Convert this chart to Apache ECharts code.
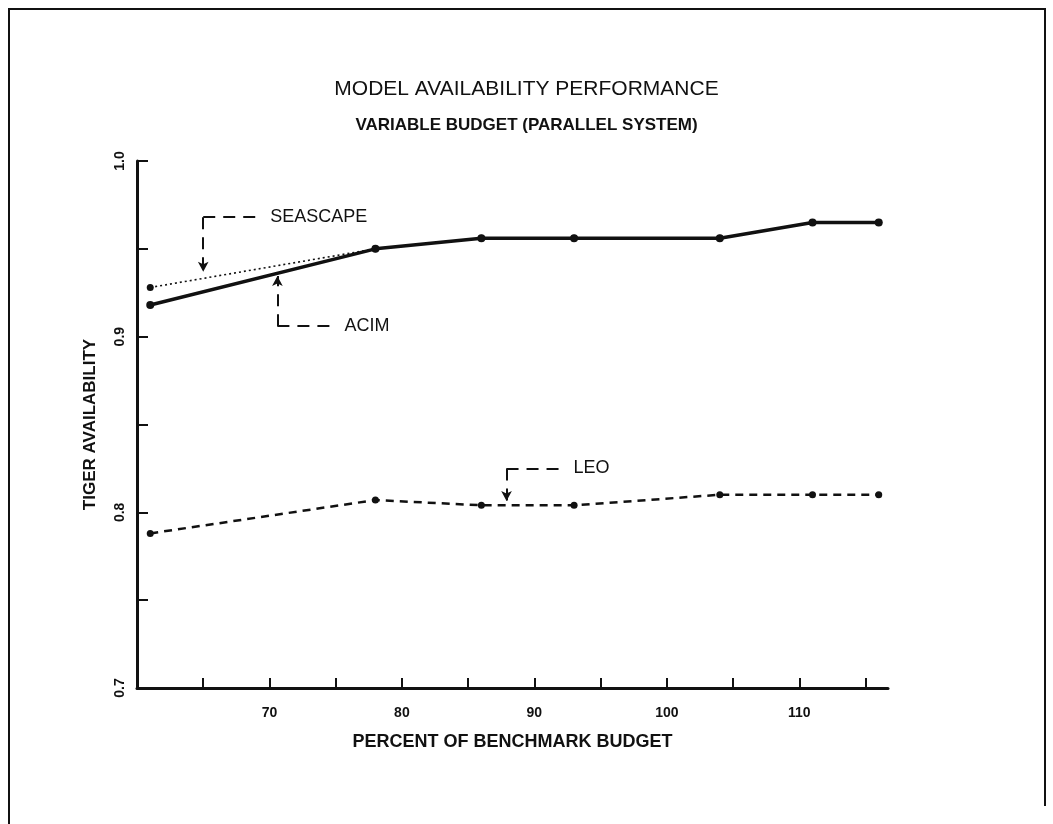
<!DOCTYPE html>
<html>
<head>
<meta charset="utf-8">
<script src="https://cdn.jsdelivr.net/npm/echarts@6/dist/echarts.min.js"></script>
<style>
  html, body { margin: 0; padding: 0; background: #fff; }
  #chart { width: 1053px; height: 824px; }
</style>
</head>
<body>
<div id="chart"></div>
<script>
// budget (% of benchmark) at which each model was run
var budget = [61, 78, 86, 93, 104, 111, 116];
// tiger availability per model
var acim = [0.918, 0.950, 0.956, 0.956, 0.956, 0.965, 0.965];
var seascape = [0.928, 0.950, 0.956, 0.956, 0.956, 0.965, 0.965];
var leo = [0.788, 0.807, 0.804, 0.804, 0.810, 0.810, 0.810];

var xTicks = [65, 70, 75, 80, 85, 90, 95, 100, 105, 110, 115];
var xLabels = [70, 80, 90, 100, 110];
var yLabels = [0.7, 0.8, 0.9, 1.0];

function pairs(xs, ys) {
    return xs.map(function (x, i) { return [x, ys[i]]; });
}

var ink = '#111';
var font = 'Liberation Sans';

// L-shaped dashed leader with an arrow, plus the label at the end
function leader(tip, corner, end, text) {
    var dash = { color: ink, width: 2, type: [12, 8] };
    return {
        silent: true,
        animation: false,
        symbol: 'none',
        lineStyle: dash,
        data: [
            [{ coord: corner, symbol: 'none' },
             { coord: tip, symbol: 'arrow', symbolSize: [8, 10] }],
            [{ coord: corner },
             { coord: end,
               label: { show: true, position: 'end', formatter: text, distance: 14,
                        color: ink, fontFamily: font, fontSize: 18 } }]
        ]
    };
}

var chart = echarts.init(document.getElementById('chart'));
chart.setOption({
    backgroundColor: '#fff',
    animation: false,
    title: [{
        text: 'MODEL AVAILABILITY PERFORMANCE',
        left: 'center', top: 74,
        textStyle: { color: ink, fontFamily: font, fontWeight: 'normal', fontSize: 21 }
    }, {
        text: 'VARIABLE BUDGET (PARALLEL SYSTEM)',
        left: 'center', top: 112,
        textStyle: { color: ink, fontFamily: font, fontWeight: 'bold', fontSize: 17 }
    }],
    grid: { left: 137, right: 165, top: 161, bottom: 136 },
    xAxis: {
        type: 'value',
        min: 60, max: 116.7,
        name: 'PERCENT OF BENCHMARK BUDGET',
        nameLocation: 'middle', nameGap: 45,
        nameTextStyle: { color: ink, fontFamily: font, fontWeight: 'bold', fontSize: 18 },
        axisLine: { lineStyle: { color: ink, width: 3 } },
        axisTick: { show: true, inside: true, length: 10, customValues: xTicks,
                    lineStyle: { color: ink, width: 2 } },
        axisLabel: { customValues: xLabels, margin: 18, color: ink,
                     fontFamily: font, fontWeight: 'bold', fontSize: 14 },
        splitLine: { show: false }
    },
    yAxis: {
        type: 'value',
        min: 0.7, max: 1.0, interval: 0.05,
        name: 'TIGER AVAILABILITY',
        nameLocation: 'middle', nameGap: 38, nameRotate: 90,
        nameTextStyle: { color: ink, fontFamily: font, fontWeight: 'bold', fontSize: 17 },
        axisLine: { show: true, lineStyle: { color: ink, width: 3 } },
        axisTick: { show: true, inside: true, length: 11, lineStyle: { color: ink, width: 2 } },
        axisLabel: {
            customValues: yLabels, rotate: 90, margin: 10, color: ink,
            fontFamily: font, fontWeight: 'bold', fontSize: 14,
            formatter: function (v) { return v.toFixed(1); }
        },
        splitLine: { show: false }
    },
    series: [{
        name: 'SEASCAPE',
        type: 'line',
        data: pairs(budget, seascape),
        symbol: 'circle', symbolSize: 7,
        itemStyle: { color: ink },
        lineStyle: { color: ink, width: 1.6, type: [2, 3] },
        markLine: leader([65, 0.937], [65, 0.968], [69, 0.968], 'SEASCAPE')
    }, {
        name: 'ACIM',
        type: 'line',
        data: pairs(budget, acim),
        symbol: 'circle', symbolSize: 8,
        itemStyle: { color: ink },
        lineStyle: { color: ink, width: 3.5 },
        markLine: leader([70.6, 0.9345], [70.6, 0.906], [74.6, 0.906], 'ACIM')
    }, {
        name: 'LEO',
        type: 'line',
        data: pairs(budget, leo),
        symbol: 'circle', symbolSize: 7,
        itemStyle: { color: ink },
        lineStyle: { color: ink, width: 2.5, type: [8, 6] },
        markLine: leader([87.9, 0.8065], [87.9, 0.825], [91.9, 0.825], 'LEO')
    }],
    graphic: [{
        type: 'polyline',
        silent: true,
        shape: { points: [[9, 824], [9, 9], [1045, 9], [1045, 806]] },
        style: { stroke: ink, lineWidth: 2, fill: null }
    }]
});
</script>
</body>
</html>
